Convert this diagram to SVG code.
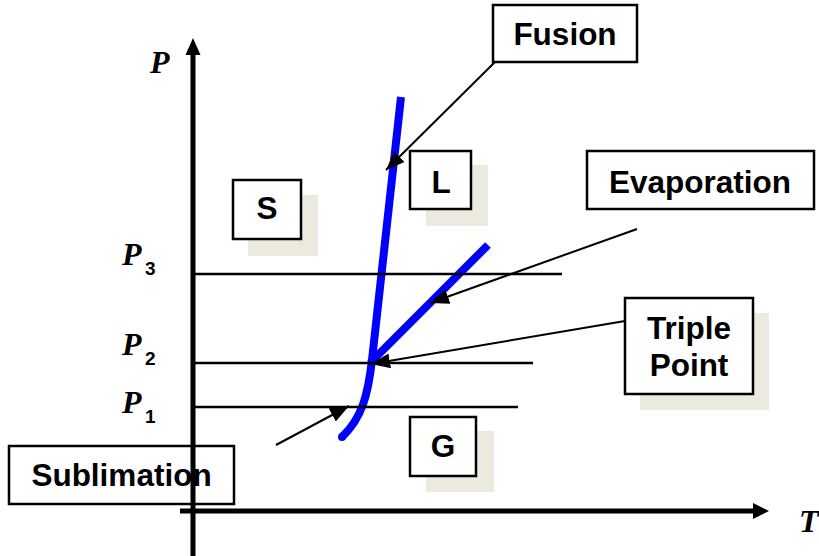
<svg xmlns="http://www.w3.org/2000/svg" width="819" height="556" viewBox="0 0 819 556">
<style>
.box{fill:#fff;stroke:#000;stroke-width:2.5}
.sh{fill:#ECE9DF}
.lbl{font-family:"Liberation Sans",Arial,sans-serif;font-weight:bold;font-size:31.5px;fill:#000;text-anchor:middle}
.var{font-family:"Liberation Serif","Times New Roman",serif;font-weight:bold;font-style:italic;font-size:32px;fill:#000}
.sub{font-family:"Liberation Sans",Arial,sans-serif;font-weight:bold;font-size:19px;fill:#000}
.hl{stroke:#000;stroke-width:2.5;fill:none}
.arr{stroke:#000;stroke-width:2;fill:none;marker-end:url(#ah)}
.blue{stroke:#0000FF;stroke-width:8;fill:none}
</style>
<defs>
<marker id="ah" markerUnits="userSpaceOnUse" markerWidth="21" markerHeight="16" refX="19" refY="7.5" orient="auto">
<path d="M0,0 L19,7.5 L0,15 z" fill="#000"/>
</marker>
</defs>
<rect width="819" height="556" fill="#fff"/>

<g id="labels">
<text class="var" x="150" y="73">P</text>
<text class="var" x="122" y="265">P</text><text class="sub" x="145" y="275">3</text>
<text class="var" x="122" y="355">P</text><text class="sub" x="145" y="365">2</text>
<text class="var" x="122" y="413">P</text><text class="sub" x="145" y="423">1</text>
<text class="var" x="799" y="532">T</text>
</g>

<g id="node-S">
<rect class="sh" x="248" y="195" width="70" height="61"/>
<rect class="box" x="233" y="180" width="68" height="59"/>
<text class="lbl" x="267" y="219">S</text>
</g>
<g id="node-L">
<rect class="sh" x="426" y="165" width="62" height="61"/>
<rect class="box" x="410" y="151" width="61" height="58"/>
<text class="lbl" x="441" y="193">L</text>
</g>
<g id="node-G">
<rect class="sh" x="426" y="431" width="68" height="61"/>
<rect class="box" x="410" y="417" width="66" height="59"/>
<text class="lbl" x="443" y="457">G</text>
</g>
<g id="node-fusion">
<rect class="box" x="493" y="5" width="144" height="57"/>
<text class="lbl" x="565" y="45">Fusion</text>
</g>
<g id="node-evaporation">
<rect class="box" x="587" y="151" width="227" height="58"/>
<text class="lbl" x="700" y="193">Evaporation</text>
</g>
<g id="node-triple">
<rect class="sh" x="640" y="313" width="129" height="97"/>
<rect class="box" x="625" y="298" width="128" height="96"/>
<text class="lbl" x="689" y="339">Triple</text>
<text class="lbl" x="689" y="376">Point</text>
</g>
<g id="node-sublimation">
<rect class="box" x="9" y="446" width="225" height="58"/>
<text class="lbl" x="121.5" y="486">Sublimation</text>
</g>

<g id="curves">
<path class="blue" d="M401,97 L372,360 C368,395 362,418 342,437"/>
<circle cx="342" cy="437" r="4" fill="#0000FF"/>
<path class="blue" d="M370,363 L488,245"/>
</g>

<g id="connectors">
<line x1="193" y1="556" x2="193" y2="52" stroke="#000" stroke-width="5"/>
<polygon points="193,38 185.5,55 200.5,55" fill="#000"/>
<line x1="180" y1="511" x2="755" y2="511" stroke="#000" stroke-width="5"/>
<polygon points="769,511 753,503 753,519" fill="#000"/>
<line class="hl" x1="195" y1="274" x2="562" y2="274"/>
<line class="hl" x1="195" y1="363" x2="533" y2="363"/>
<line class="hl" x1="195" y1="407" x2="518" y2="407"/>
<line class="arr" x1="495" y1="62" x2="386" y2="170"/>
<line class="arr" x1="637" y1="229" x2="430" y2="303"/>
<line class="arr" x1="625" y1="321" x2="371" y2="364"/>
<line class="arr" x1="276" y1="445" x2="349" y2="406"/>
</g>
</svg>
